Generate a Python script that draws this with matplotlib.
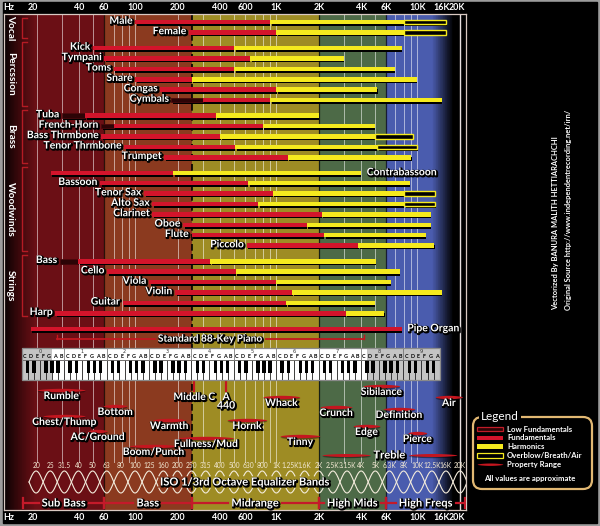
import numpy as np
import matplotlib
matplotlib.use("Agg")
import matplotlib.pyplot as plt
import matplotlib.patheffects as pe
from matplotlib.patches import Rectangle, FancyBboxPatch
from matplotlib.colors import to_rgb

# ---------------- data (Hz) ----------------
group_names = ["Vocal", "Percssion", "Brass", "Woodwinds", "Strings"]

instruments = ["Male", "Female",
               "Kick", "Tympani", "Toms", "Snare", "Congas", "Cymbals",
               "Tuba", "French-Horn", "Bass Thrmbone", "Tenor Thrmbone", "Trumpet",
               "Contrabassoon", "Bassoon", "Tenor Sax", "Alto Sax", "Clarinet", "Oboe", "Flute", "Piccolo",
               "Bass", "Cello", "Viola", "Violin", "Guitar", "Harp",
               "Pipe Organ"]
group_idx = [0, 0, 1, 1, 1, 1, 1, 1, 2, 2, 2, 2, 2, 3, 3, 3, 3, 3, 3, 3, 3, 4, 4, 4, 4, 4, 4, 5]
low_lo = [None, None, None, None, None, None, None, 180, 30, 57, None, None, None,
          None, None, None, None, None, None, None, None, 29, None, None, None, None, None, None]
fund_lo = [100, 240, 50, 60, 70, 100, 150, 300, 44, 70, 57, 83, 160,
           25, 56, 115, 132, 132, 218, 250, 616, 39, 63, 125, 191, 81, 27, 18]
fund_hi = [900, 1000, 500, 650, 500, 250, 1000, 900, 370, 800, 400, 510, 1200,
           185, 630, 940, 740, 2100, 1640, 2190, 3820, 340, 514, 990, 1300, 1180, 3100, 7760]
harm_hi = [8000, 8000, 7800, 3000, 7000, 10000, 5200, 15000, 2000, 5000, 5000, 5200, 9100,
           4000, 8900, 8100, 8100, 12500, 12500, 11500, 13200, 5100, 7500, 6500, 15000, 5000, 5800, None]
over_hi = [16000, 16000, None, None, None, None, None, None, None, None, 9400, 10000, None,
           None, None, 13400, 13400, None, None, None, None, None, None, None, None, None, None, None]
label_after = ["Contrabassoon", "Pipe Organ"]

piano_name = "Standard 88-Key Piano"
piano_range = [27.5, 4186]

prop_names = ["Rumble", "Chest/Thump", "Bottom", "AC/Ground", "Boom/Punch", "Warmth",
              "Fullness/Mud", "Hornk", "Whack", "Tinny", "Crunch", "Edge", "Sibilance",
              "Definition", "Pierce", "Air", "Treble"]
prop_lo = [20, 22, 59, 46, 90, 133, 200, 446, 800, 1060, 2040, 3500, 4100, 5700, 8600, 13400, 2100]
prop_hi = [44, 44, 87, 63, 200, 225, 500, 858, 1470, 2040, 3450, 5450, 7550, 9640, 11700, 21000, 19200]

marker_names = ["Middle C", "A\n440"]
marker_f = [261.6, 440]

eq_labels = ["20", "25", "31.5", "40", "50", "63", "80", "100", "125", "160", "200", "250",
             "315", "400", "500", "630", "800", "1K", "1.25K", "1.6K", "2K", "2.5K", "3.15K",
             "4K", "5K", "6.3K", "8K", "10K", "12.5K", "16K", "20K"]

band_names = ["Sub Bass", "Bass", "Midrange", "High Mids", "High Freqs"]
band_edges = [16, 60, 250, 2000, 6000, 22000]

axis_ticks = [20, 40, 60, 100, 200, 400, 600, 1000, 2000, 4000, 6000, 10000, 16000, 20000]
axis_labels = ["20", "40", "60", "100", "200", "400", "600", "1K", "2K", "4K", "6K", "10K", "16K", "20K"]

legend_items = ["Low Fundamentals", "Fundamentals", "Harmonics", "Overblow/Breath/Air", "Property Range"]

# ---------------- style ----------------
RED = '#d3142b'
YEL = '#f5ea1e'
LOW = '#2c0406'
PROP = '#c4161f'
MAROON = '#6b0f15'
RUST = '#8b3a1f'
OLIVE = '#9e8c24'
GREEN = '#4d6a47'
BLUE = '#4a5cae'
BOLD = ['Lato', 'DejaVu Sans']
SHADOW = [pe.Stroke(linewidth=1.6, foreground='black', offset=(0.7, -0.7)), pe.Normal()]

W, H = 600, 526
PX_PER_DEC, PX_OFF = 140.85, -146.2


def f_at(px):
    return 10 ** ((px - PX_OFF) / PX_PER_DEC)


def row_y(i, g):
    return 22 + i * 10.4 + g * 5.2


fig = plt.figure(figsize=(6, 5.26), dpi=100, facecolor='#9c9c9c')
bg = fig.add_axes([0, 0, 1, 1])
bg.set_xlim(0, W); bg.set_ylim(H, 0); bg.axis('off')
bg.add_patch(Rectangle((3, 2), 594, 521, color='black'))

X0, X1, Y0, Y1 = 4, 466, 14, 510
ax = fig.add_axes([X0 / W, 1 - Y1 / H, (X1 - X0) / W, (Y1 - Y0) / H])
ax.set_xscale('log')
ax.set_xlim(f_at(X0), f_at(X1))
ax.set_ylim(Y1, Y0)
ax.set_facecolor('black')
ax.set_xticks([])
ax.set_xticks([], minor=True)
ax.set_yticks([])
for s in ax.spines.values():
    s.set_color('#d9c9c2'); s.set_linewidth(0.9)

ov = fig.add_axes([0, 0, 1, 1], zorder=5)
ov.set_xlim(0, W); ov.set_ylim(H, 0); ov.axis('off')


def hgrad(fa, fb, ca, cb, n=40, gamma=1.0):
    edges = np.geomspace(fa, fb, n + 1)
    ca, cb = np.array(to_rgb(ca)), np.array(to_rgb(cb))
    for i in range(n):
        t = ((i + 0.5) / n) ** gamma
        ax.axvspan(edges[i], edges[i + 1] * 1.003, color=ca + (cb - ca) * t, lw=0, zorder=0)


# background frequency regions
hgrad(f_at(X0), f_at(36), '#000000', MAROON, gamma=0.8)
ax.axvspan(f_at(36), 60, color=MAROON, lw=0, zorder=0)
ax.axvspan(60, 250, color=RUST, lw=0, zorder=0)
ax.axvspan(250, 2000, color=OLIVE, lw=0, zorder=0)
ax.axvspan(2000, 6000, color=GREEN, lw=0, zorder=0)
ax.axvspan(6000, f_at(432), color=BLUE, lw=0, zorder=0)
hgrad(f_at(432), f_at(453), BLUE, '#000000', n=30)

# grid lines
grid_f = [m * 10 ** e for e in (1, 2, 3) for m in range(1, 10)] + [10000]
for g in grid_f:
    if g < 20 or g in (60, 2000, 6000):
        continue
    ax.plot([g, g], [Y0, 462], color='white', lw=0.7, alpha=0.55, zorder=1)
for b in (60, 2000, 6000):
    ax.plot([b, b], [Y0, Y1], color='black', lw=0.9, alpha=0.7, zorder=1)
ax.plot([250, 250], [Y0, Y1], color='black', lw=1.2, ls=(0, (4, 2)), zorder=1)
ax.plot([20000, 20000], [Y0, Y1], color='#e8e0e0', lw=1.0, zorder=1)

# instrument bars
BH = 4.6
SH = 10 ** (1.6 / PX_PER_DEC)


def seg(fa, fb, y, fc, ec=None, lw=0.0):
    ax.add_patch(Rectangle((fa * SH, y - BH / 2 + 1.6), fb - fa, BH, fc='black', lw=0, zorder=3))
    ax.add_patch(Rectangle((fa, y - BH / 2), fb - fa, BH, fc=fc, ec=ec or fc, lw=lw, zorder=4))


for i, name in enumerate(instruments):
    y = row_y(i, group_idx[i])
    start = low_lo[i] if low_lo[i] else fund_lo[i]
    end = fund_hi[i]
    if low_lo[i]:
        seg(low_lo[i], fund_lo[i], y, LOW, '#4a080c', 0.6)
    seg(fund_lo[i], fund_hi[i], y, RED)
    if harm_hi[i]:
        seg(fund_hi[i], harm_hi[i], y, YEL)
        end = harm_hi[i]
    if over_hi[i]:
        seg(harm_hi[i], over_hi[i], y, 'black', YEL, 1.0)
        end = over_hi[i]
    if name in label_after:
        ax.annotate(name, (end, y), xytext=(4, 0), textcoords='offset points', ha='left', va='center',
                    color='white', fontsize=7.5, family=BOLD, weight='bold', path_effects=SHADOW, zorder=6)
    else:
        ax.annotate(name, (start, y), xytext=(-2, 0.5), textcoords='offset points', ha='right', va='center',
                    color='white', fontsize=7.5, family=BOLD, weight='bold', path_effects=SHADOW, zorder=6)

renderer = fig.canvas.get_renderer()


def text_span(t, pad=3):
    bb = t.get_window_extent(renderer=renderer)
    inv = ax.transData.inverted()
    a = inv.transform((bb.x0 - pad, bb.y0))[0]
    b = inv.transform((bb.x1 + pad, bb.y0))[0]
    return a, b


# piano range
py = row_y(len(instruments), 5)
pt = ax.text(np.sqrt(piano_range[0] * piano_range[1]), py, piano_name, ha='center', va='center',
             color='white', fontsize=7.3, family=BOLD, weight='bold', path_effects=SHADOW, zorder=6)
ga, gb = text_span(pt)
for a, b in ((piano_range[0], ga), (gb, piano_range[1])):
    ax.plot([a, b], [py, py], color=PROP, lw=1.3, zorder=4)
for e in piano_range:
    ax.plot([e, e], [py, py - 4], color=PROP, lw=1.0, zorder=4)

# keyboard
C0 = 16.3516
KT, KL, KB, KK = 348, 360, 380, 373
semis = [0, 2, 4, 5, 7, 9, 11]
for o in range(10):
    nk = 6 if o == 9 else 7
    for k in range(nk):
        fa = C0 * 2 ** (o + (k - 0.5) / 7)
        fb = C0 * 2 ** (o + (k + 0.5) / 7)
        nf = C0 * 2 ** (o + semis[k] / 12)
        col = 'white' if piano_range[0] - 0.5 < nf < piano_range[1] + 5 else '#c4c4c4'
        ax.add_patch(Rectangle((fa, KT), fb - fa, KL - KT, fc=col, lw=0, zorder=6))
        ax.add_patch(Rectangle((fa, KL), fb - fa, KB - KL, fc=col, ec='#1a1a1a', lw=0.5, zorder=6))
        ax.text(np.sqrt(fa * fb), 356.3, 'CDEFGAB'[k], ha='center', va='center', fontsize=3.9,
                color='black', family=BOLD, weight='bold', zorder=7)
    for k in (0, 1, 3, 4, 5):
        if o == 9 and k == 5:
            continue
        c = o + (k + 0.5) / 7
        fa, fb = C0 * 2 ** (c - 0.28 / 7), C0 * 2 ** (c + 0.28 / 7)
        ax.add_patch(Rectangle((fa, KL), fb - fa, KK - KL, fc='black', lw=0, zorder=7))
    ax.text(C0 * 2 ** (o + 2.5 / 7), 351.2, str(o), ha='center', va='center', fontsize=3.6,
            color='#333333', zorder=7)
    fc_ = C0 * 2 ** (o - 0.5 / 7)
    ax.plot([fc_, fc_], [KT, KL], color='#666666', lw=0.5, zorder=7)
kl, kr = C0 * 2 ** (-0.5 / 7), C0 * 2 ** (9 + 5.5 / 7)
ax.add_patch(Rectangle((kl, KT), kr - kl, KB - KT, fc='none', ec='#8a8a8a', lw=0.9, zorder=8))
ax.plot([kl, kr], [KL, KL], color='#8a8a8a', lw=0.5, zorder=8)


# property ranges
def lens(fa, fb, y, hmax=1.7, color=PROP, z=5):
    t = np.linspace(0, 1, 60)
    xs = fa * (fb / fa) ** t
    h = hmax * np.sin(np.pi * t) ** 0.6
    ax.fill_between(xs, y - h + 1.2, y + h + 1.2, color='black', alpha=0.45, lw=0, zorder=z - 1)
    ax.fill_between(xs, y - h, y + h, color=color, lw=0, zorder=z)


prop_rows = [390, 416, 406, 431, 446, 420, 438, 420, 397, 436, 407, 426, 386, 409, 433, 397, 455]
for name, a, b, y in zip(prop_names, prop_lo, prop_hi, prop_rows):
    mid = np.sqrt(a * b)
    if name == "Treble":
        t = ax.text(mid, y, name, ha='center', va='center', color='white', fontsize=8,
                    family=BOLD, weight='bold', path_effects=SHADOW, zorder=6)
        ga, gb = text_span(t)
        lens(a, ga, y, 1.5)
        lens(gb, b, y, 1.5)
    else:
        lens(a, b, y)
        ax.text(mid, y + 6.5, name, ha='center', va='center', color='white', fontsize=7.5,
                family=BOLD, weight='bold', path_effects=SHADOW, zorder=6)

for name, f in zip(marker_names, marker_f):
    ax.plot([f, f], [KB, 391], color=PROP, lw=1.6, zorder=5)
    ax.text(f, 393, name, ha='center', va='top', color='white', fontsize=7.5, linespacing=0.95,
            family=BOLD, weight='bold', path_effects=SHADOW, zorder=6)

# ISO 1/3 octave bands
fc0 = 1000 * 2 ** (-17 / 3)
for i, lab in enumerate(eq_labels):
    ax.text(fc0 * 2 ** (i / 3), 465.5, lab, ha='center', va='center', fontsize=4.8,
            color='#f2e8d2', family=BOLD, zorder=6)
iso = ax.text(600, 482, "ISO 1/3rd Octave Equalizer Bands", ha='center', va='center', color='white',
              fontsize=8, family=BOLD, weight='bold', path_effects=SHADOW, zorder=6)
ia, ib = text_span(iso, pad=2)
fw = np.geomspace(fc0 * 2 ** (-1 / 6), fc0 * 2 ** ((len(eq_labels) - 1) / 3 + 1 / 6), 3000)
ph = np.cos(np.pi * 3 * np.log2(fw / fc0))
for sgn in (1, -1):
    yw = 482 + sgn * 11 * ph
    yw = np.where((fw > ia) & (fw < ib) & (np.abs(ph) < 0.55), np.nan, yw)
    ax.plot(fw, yw, color='#f4ecdc', lw=0.8, zorder=5)

# frequency bands along the bottom
BY = 503
for name, a, b in zip(band_names, band_edges[:-1], band_edges[1:]):
    t = ax.text(np.sqrt(a * b), BY, name, ha='center', va='center', color='white', fontsize=8,
                family=BOLD, weight='bold', path_effects=SHADOW, zorder=6)
    ga, gb = text_span(t)
    ax.plot([a, ga], [BY, BY], color='#c41a2a', lw=1.6, zorder=5)
    ax.plot([gb, b], [BY, BY], color='#c41a2a', lw=1.6, zorder=5)
    for e in (a, b):
        ax.plot([e, e], [BY - 5, BY + 5], color='#c41a2a', lw=1.6, zorder=5)

# frequency axis labels (top and bottom bars)
nudge = {"20": -3, "16K": -3, "20K": -2}
for f, lab in zip(axis_ticks, axis_labels):
    dx = nudge.get(lab, 0)
    for yfrac, dy in ((1, 4.7), (0, -5.7)):
        ax.annotate(lab, (f, yfrac), xycoords=('data', 'axes fraction'), xytext=(dx, dy),
                    textcoords='offset points', ha='center', va='center', color='white',
                    fontsize=6.4, family=BOLD, weight='bold', annotation_clip=False)
for yy in (8, 518):
    ov.text(9, yy, "Hz", ha='center', va='center', color='white', fontsize=6.4, family=BOLD, weight='bold')

# left column: instrument groups with brackets
firsts = [row_y(group_idx.index(g), g) for g in range(5)]
lasts = [row_y(len(group_idx) - 1 - group_idx[::-1].index(g), g) for g in range(5)]
bounds = [16] + [(lasts[g] + firsts[g + 1]) / 2 for g in range(4)] + [lasts[4] + 5]
for g, name in enumerate(group_names):
    top, bot = bounds[g] + 2, bounds[g + 1] - 2
    ov.plot([27, 21.5, 21.5, 27], [top, top, bot, bot], color='#b51b24', lw=1.0)
    ov.text(10.5, (top + bot) / 2, name, rotation=-90, ha='center', va='center', color='white',
            fontsize=7.3, family=BOLD, weight='bold')

# credits
ov.text(556, 310, "Vectorized By BANURA MALITH HETTIARACHCHI", rotation=90, ha='center', va='bottom',
        color='white', fontsize=5.4, family=BOLD, weight='bold')
ov.text(569, 310, "Original Source http://www.independentrecording.net/irn/", rotation=90, ha='center',
        va='bottom', color='white', fontsize=5.4, family=BOLD, weight='bold')

# legend
ov.add_patch(FancyBboxPatch((473, 417), 119, 72, boxstyle='round,pad=0,rounding_size=9',
                            fc='none', ec='#e2b873', lw=1.6))
ov.text(481, 416, "Legend", ha='left', va='center', color='white', fontsize=8.5, family=BOLD,
        bbox=dict(fc='black', ec='none', pad=1.2))
sw_style = [(LOW, '#c01c28', 0.9), (RED, RED, 0), (YEL, YEL, 0), ('black', YEL, 0.9)]
for j, lab in enumerate(legend_items):
    yy = 429 + j * 8.8
    if j < 4:
        fcol, ecol, lw = sw_style[j]
        ov.add_patch(Rectangle((477, yy - 2.2), 26, 4.4, fc=fcol, ec=ecol, lw=lw))
    else:
        t = np.linspace(0, 1, 40)
        xs = 477 + 26 * t
        h = 1.2 * np.sin(np.pi * t) ** 0.6
        ov.fill_between(xs, yy - h, yy + h, color=PROP, lw=0)
    ov.text(507, yy, lab, ha='left', va='center', color='white', fontsize=5.6, family=BOLD, weight='bold')
ov.text(530, 479, "All values are approximate", ha='center', va='center', color='white', fontsize=5.6,
        family=BOLD, weight='bold')

fig.savefig('out.png', dpi=100, facecolor=fig.get_facecolor())
